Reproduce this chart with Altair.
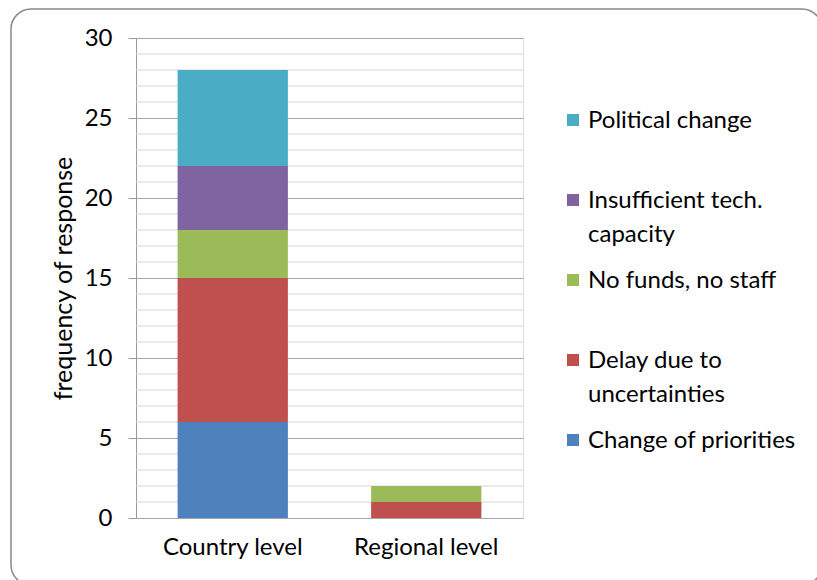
import altair as alt
import pandas as pd

levels = ["Country level", "Regional level"]
series = ["Change of priorities", "Delay due to uncertainties", "No funds, no staff",
          "Insufficient tech. capacity", "Political change"]
country_values = [6, 9, 3, 4, 6]
regional_values = [0, 1, 1, 0, 0]
colors = ["#4F81BD", "#C0504D", "#9BBB59", "#8064A2", "#4BACC6"]
legend_order = ["Political change", "Insufficient tech. capacity", "No funds, no staff",
                "Delay due to uncertainties", "Change of priorities"]
legend_labels = ["Political change", "Insufficient tech.\ncapacity", "No funds, no staff",
                 "Delay due to\nuncertainties", "Change of priorities"]
major_ticks = [0, 5, 10, 15, 20, 25, 30]
minor_ticks = [1, 2, 3, 4, 6, 7, 8, 9, 11, 12, 13, 14, 16, 17, 18, 19,
               21, 22, 23, 24, 26, 27, 28, 29]

FONT = "Lato"
FS = 24

rows = []
for lvl, vals in zip(levels, [country_values, regional_values]):
    for i, (s, v) in enumerate(zip(series, vals)):
        rows.append({"level": lvl, "series": s, "value": v, "order": i})
df = pd.DataFrame(rows)
minor_df = pd.DataFrame({"y": minor_ticks})
legend_df = pd.DataFrame({"series": legend_order, "label": legend_labels})

yscale = alt.Scale(domain=[0, 30], nice=False)

minor = alt.Chart(minor_df).mark_rule(color="#d4d4d4", strokeWidth=1).encode(
    y=alt.Y("y:Q", scale=yscale, axis=None)
)

bars = alt.Chart(df).mark_bar(strokeWidth=0).encode(
    x=alt.X("level:N", sort=levels, title=None,
            scale=alt.Scale(paddingInner=0.43, paddingOuter=0.215),
            axis=alt.Axis(labelAngle=0, ticks=False, domain=False, labelFont=FONT,
                          labelFontSize=FS, labelColor="#000", labelPadding=17)),
    y=alt.Y("value:Q", stack="zero", scale=yscale, title="frequency of response",
            axis=alt.Axis(values=major_ticks, tickSize=8, tickColor="#999999",
                          domainColor="#999999", gridColor="#a6a6a6", grid=True,
                          labelFont=FONT, labelFontSize=FS, labelColor="#000",
                          labelPadding=16, titleFont=FONT, titleFontSize=25,
                          titleFontWeight="normal", titleColor="#000", titlePadding=8)),
    color=alt.Color("series:N", scale=alt.Scale(domain=series, range=colors), legend=None),
    order=alt.Order("order:Q"),
)

lscale = alt.Scale(type="point", domain=legend_order, range=[82, 402], padding=0)

leg_sym = alt.Chart(legend_df).mark_square(size=144, opacity=1).encode(
    x=alt.value(437),
    y=alt.Y("series:N", scale=lscale, axis=None, sort=legend_order),
    color=alt.Color("series:N", scale=alt.Scale(domain=series, range=colors), legend=None),
)
leg_txt = alt.Chart(legend_df).mark_text(
    align="left", baseline="alphabetic", dy=8, lineBreak="\n", lineHeight=34,
    font=FONT, fontSize=FS, color="#000"
).encode(
    x=alt.value(452),
    y=alt.Y("series:N", scale=lscale, axis=None, sort=legend_order),
    text="label:N",
)

frame = alt.Chart(alt.Data(values=[{}])).mark_rect(
    fill=None, stroke="#888888", strokeWidth=1.5, cornerRadius=20
).encode(
    x=alt.value(-125), x2=alt.value(686), y=alt.value(-29), y2=alt.value(547)
)

chart = alt.layer(frame, minor, bars, leg_sym, leg_txt).resolve_scale(
    y="independent", color="shared"
).properties(
    width=387, height=480,
    autosize=alt.AutoSizeParams(type="none"),
    padding={"left": 136, "top": 38, "right": 294, "bottom": 62},
).configure_view(stroke="#a6a6a6", strokeWidth=1).configure(background="white")

chart.save("out.html", embed_options={"renderer": "svg", "actions": False})
